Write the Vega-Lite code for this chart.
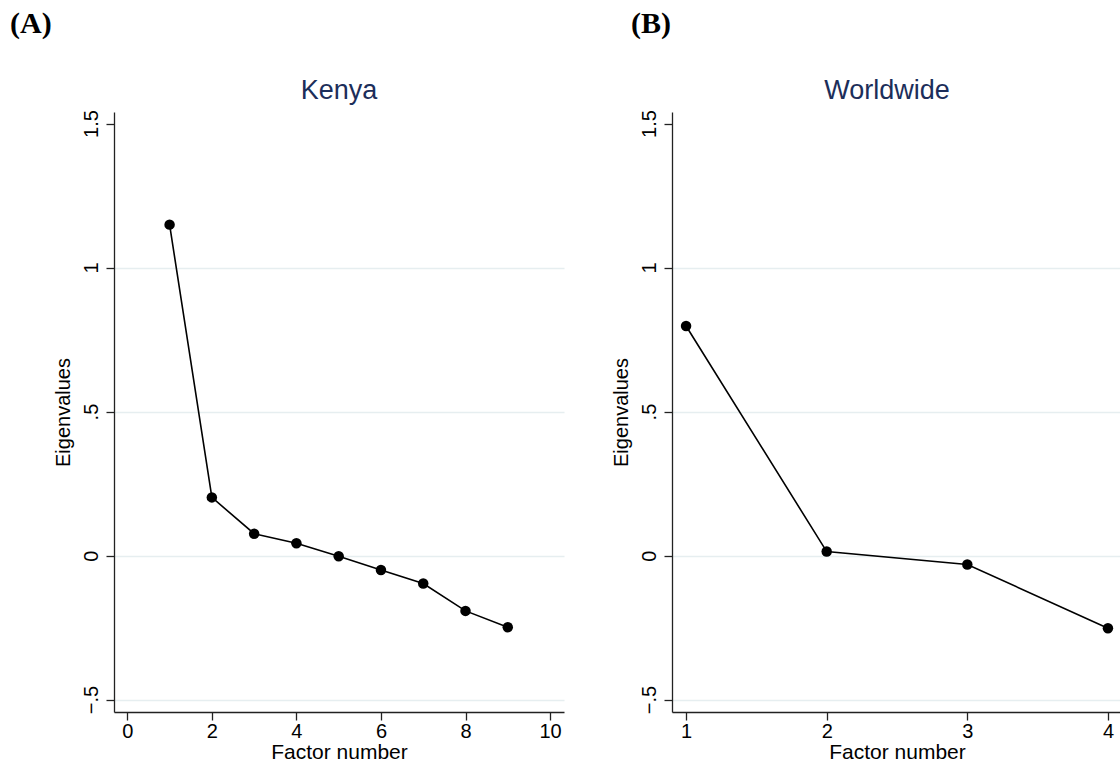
{
  "$schema": "https://vega.github.io/schema/vega-lite/v6.json",
  "background": "white",
  "padding": {"left": 10, "top": 8, "right": 0, "bottom": 0},
  "spacing": 47,
  "datasets": {
    "kenya": [
      {"factor": 1, "eigen": 1.149},
      {"factor": 2, "eigen": 0.202},
      {"factor": 3, "eigen": 0.076},
      {"factor": 4, "eigen": 0.043},
      {"factor": 5, "eigen": -0.002},
      {"factor": 6, "eigen": -0.05},
      {"factor": 7, "eigen": -0.097},
      {"factor": 8, "eigen": -0.192},
      {"factor": 9, "eigen": -0.249}
    ],
    "world": [
      {"factor": 1, "eigen": 0.797},
      {"factor": 2, "eigen": 0.014},
      {"factor": 3, "eigen": -0.031},
      {"factor": 4, "eigen": -0.252}
    ]
  },
  "config": {
    "font": "Liberation Sans",
    "view": {"stroke": null},
    "axis": {
      "domainColor": "#222222",
      "tickColor": "#222222",
      "labelColor": "black",
      "titleColor": "black",
      "labelFontSize": 20,
      "titleFontSize": 20,
      "titleFontWeight": "normal",
      "tickSize": 8,
      "domainWidth": 1.3,
      "tickWidth": 1.3
    },
    "title": {"fontSize": 27, "fontWeight": "normal", "color": "#1c2e5a"}
  },
  "hconcat": [
    {
      "title": {"text": "(A)", "anchor": "start", "frame": "bounds", "font": "Liberation Serif", "fontSize": 30, "fontWeight": "bold", "color": "black", "dx": -43, "offset": 38},
      "vconcat": [
        {
          "width": 450,
          "height": 600,
          "title": {"text": "Kenya", "anchor": "middle", "offset": 5},
          "data": {"name": "kenya"},
          "encoding": {
            "x": {"field": "factor", "type": "quantitative", "title": "Factor number",
              "scale": {"domain": [-0.315, 10.33], "nice": false, "zero": false},
              "axis": {"values": [0, 2, 4, 6, 8, 10], "grid": false, "labelPadding": 1, "titlePadding": 0, "titleFontSize": 21}},
            "y": {"field": "eigen", "type": "quantitative", "title": "Eigenvalues",
              "scale": {"domain": [-0.543, 1.54], "nice": false, "zero": false},
              "axis": {"values": [-0.5, 0, 0.5, 1, 1.5], "labelAngle": 270, "labelPadding": 5, "titlePadding": 8,
                "labelExpr": "datum.value == 0.5 ? '.5' : datum.value == -0.5 ? '−.5' : format(datum.value, '~g')",
                "grid": true, "gridColor": {"condition": {"test": "datum.value == 1.5", "value": "transparent"}, "value": "#e6eef0"}, "gridWidth": 1.3}}
          },
          "layer": [
            {"mark": {"type": "line", "color": "black", "strokeWidth": 1.6}},
            {"mark": {"type": "circle", "color": "black", "size": 110, "opacity": 1}}
          ]
        }
      ]
    },
    {
      "title": {"text": "(B)", "anchor": "start", "frame": "bounds", "font": "Liberation Serif", "fontSize": 30, "fontWeight": "bold", "color": "black", "dx": 20, "offset": 38},
      "vconcat": [
        {
          "width": 450,
          "height": 600,
          "title": {"text": "Worldwide", "anchor": "middle", "offset": 5, "dx": -10},
          "data": {"name": "world"},
          "encoding": {
            "x": {"field": "factor", "type": "quantitative", "title": "Factor number",
              "scale": {"domain": [0.9, 4.1], "nice": false, "zero": false},
              "axis": {"values": [1, 2, 3, 4], "grid": false, "labelPadding": 1, "titlePadding": 0, "titleFontSize": 21}},
            "y": {"field": "eigen", "type": "quantitative", "title": "Eigenvalues",
              "scale": {"domain": [-0.543, 1.54], "nice": false, "zero": false},
              "axis": {"values": [-0.5, 0, 0.5, 1, 1.5], "labelAngle": 270, "labelPadding": 5, "titlePadding": 8,
                "labelExpr": "datum.value == 0.5 ? '.5' : datum.value == -0.5 ? '−.5' : format(datum.value, '~g')",
                "grid": true, "gridColor": {"condition": {"test": "datum.value == 1.5", "value": "transparent"}, "value": "#e6eef0"}, "gridWidth": 1.3}}
          },
          "layer": [
            {"mark": {"type": "line", "color": "black", "strokeWidth": 1.6}},
            {"mark": {"type": "circle", "color": "black", "size": 110, "opacity": 1}}
          ]
        }
      ]
    }
  ]
}
